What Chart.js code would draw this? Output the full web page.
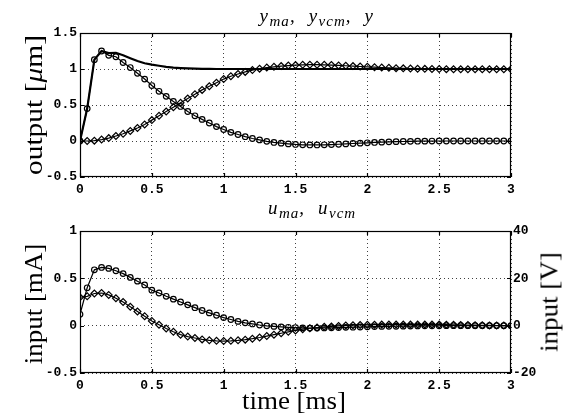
<!DOCTYPE html>
<html>
<head>
<meta charset="utf-8">
<script src="https://cdn.jsdelivr.net/npm/chart.js@4.4.0/dist/chart.umd.min.js"></script>
<style>
  body { margin: 0; background: #fff; width: 570px; height: 414px; position: relative; overflow: hidden; font-family: "Liberation Serif", serif; color: #000; }
  canvas { position: absolute; left: 0; }
  #topChart { top: 0; }
  #botChart { top: 200px; }
  .lbl { position: absolute; white-space: nowrap; font-size: 25px; line-height: 1; }
  .ttl { position: absolute; white-space: nowrap; font-style: italic; font-size: 19px; letter-spacing: 1.5px; line-height: 1; transform: translateX(-50%); }
  .ttl sub { font-size: 15px; vertical-align: -4px; letter-spacing: 1px; }
</style>
</head>
<body>
<canvas id="topChart" width="570" height="200"></canvas>
<canvas id="botChart" width="570" height="214"></canvas>

<div class="ttl" style="left:317px; top:6px;">y<sub>ma</sub>,&nbsp;&nbsp;y<sub>vcm</sub>,&nbsp;&nbsp;y</div>
<div class="ttl" style="left:312px; top:198px;">u<sub>ma</sub>,&nbsp;&nbsp;u<sub>vcm</sub></div>
<div class="lbl" style="left:33px; top:105px; transform:translate(-50%,-50%) rotate(-90deg) scaleX(1.18);">output [<i>μ</i>m]</div>
<div class="lbl" style="left:33px; top:304px; transform:translate(-50%,-50%) rotate(-90deg) scaleX(1.08);">input [mA]</div>
<div class="lbl" style="left:549px; top:302px; transform:translate(-50%,-50%) rotate(-90deg) scaleX(1.08);">input [V]</div>
<div class="lbl" style="left:294px; top:400px; transform:translate(-50%,-50%) scaleX(1.08);">time [ms]</div>

<script>
// time grid [ms]
const t = [0, 0.05, 0.1, 0.15, 0.2, 0.25, 0.3, 0.35, 0.4, 0.45,
  0.5, 0.55, 0.6, 0.65, 0.7, 0.75, 0.8, 0.85, 0.9, 0.95,
  1.0, 1.05, 1.1, 1.15, 1.2, 1.25, 1.3, 1.35, 1.4, 1.45,
  1.5, 1.55, 1.6, 1.65, 1.7, 1.75, 1.8, 1.85, 1.9, 1.95,
  2.0, 2.05, 2.1, 2.15, 2.2, 2.25, 2.3, 2.35, 2.4, 2.45,
  2.5, 2.55, 2.6, 2.65, 2.7, 2.75, 2.8, 2.85, 2.9, 2.95, 3.0];

// output [um]
const yTotal = [0, 0.45, 1.13, 1.25, 1.22, 1.225, 1.19, 1.15, 1.11, 1.08,
  1.06, 1.045, 1.03, 1.02, 1.013, 1.008, 1.004, 1.002, 1.001, 1,
  1, 1, 1, 1, 1, 1, 1, 1, 1, 1,
  1, 1, 1, 1, 1, 1, 1, 1, 1, 1,
  1, 1, 1, 1, 1, 1, 1, 1, 1, 1,
  1, 1, 1, 1, 1, 1, 1, 1, 1, 1, 1];
const yMa = [0, 0.45, 1.13, 1.25, 1.19, 1.17, 1.09, 1.02, 0.94, 0.86,
  0.77, 0.69, 0.62, 0.55, 0.48, 0.41, 0.35, 0.30, 0.25, 0.20,
  0.16, 0.12, 0.09, 0.06, 0.035, 0.015, -0.005, -0.02, -0.03, -0.04,
  -0.048, -0.053, -0.055, -0.055, -0.053, -0.05, -0.045, -0.04, -0.035, -0.03,
  -0.025, -0.02, -0.016, -0.012, -0.009, -0.007, -0.005, -0.003, -0.002, -0.001,
  0, 0, 0, 0, 0, 0, 0, 0, 0, 0, 0];
const yVcm = [0, 0, 0.005, 0.02, 0.04, 0.07, 0.10, 0.14, 0.18, 0.23,
  0.29, 0.35, 0.41, 0.47, 0.53, 0.59, 0.65, 0.71, 0.76, 0.81,
  0.86, 0.90, 0.93, 0.96, 0.985, 1.005, 1.02, 1.03, 1.04, 1.048,
  1.054, 1.058, 1.06, 1.06, 1.058, 1.055, 1.05, 1.045, 1.04, 1.035,
  1.03, 1.025, 1.02, 1.016, 1.012, 1.009, 1.006, 1.004, 1.002, 1.0,
  0.999, 0.998, 0.997, 0.997, 0.996, 0.996, 0.996, 0.996, 0.996, 0.996, 0.996];

// input: u_ma [mA], u_vcm [V]
const uMa = [0.12, 0.40, 0.59, 0.615, 0.605, 0.58, 0.55, 0.51, 0.47, 0.43,
  0.375, 0.345, 0.31, 0.28, 0.25, 0.22, 0.19, 0.16, 0.135, 0.11,
  0.085, 0.065, 0.045, 0.03, 0.018, 0.007, -0.002, -0.008, -0.013, -0.017,
  -0.02, -0.023, -0.025, -0.025, -0.024, -0.022, -0.02, -0.018, -0.016, -0.014,
  -0.012, -0.01, -0.008, -0.007, -0.006, -0.005, -0.004, -0.003, -0.002, -0.002,
  -0.001, 0, 0, 0, 0, 0, 0, 0, 0, 0, 0];
const uVcm = [12, 12.4, 13.6, 13.8, 13, 11.6, 10, 8, 6, 4,
  2, 0.4, -1.2, -2.6, -3.8, -4.6, -5.2, -5.8, -6.2, -6.4,
  -6.5, -6.4, -6.2, -5.9, -5.5, -5.0, -4.4, -3.8, -3.2, -2.6,
  -2.0, -1.5, -1.1, -0.8, -0.5, -0.3, -0.1, 0.1, 0.2, 0.3,
  0.35, 0.4, 0.45, 0.45, 0.45, 0.45, 0.45, 0.45, 0.45, 0.45,
  0.45, 0.4, 0.35, 0.3, 0.25, 0.2, 0.16, 0.12, 0.08, 0.05, 0.02];

// ticks
const xTicks = [0, 0.5, 1, 1.5, 2, 2.5, 3];
const xTickLabels = ["0", "0.5", "1", "1.5", "2", "2.5", "3"];
const yTopTicks = [-0.5, 0, 0.5, 1, 1.5];
const yTopTickLabels = ["-0.5", "0", "0.5", "1", "1.5"];
const yBotTicks = [-0.5, 0, 0.5, 1];
const yBotTickLabels = ["-0.5", "0", "0.5", "1"];
const yRightTicks = [-20, 0, 20, 40];
const yRightTickLabels = ["-20", "0", "20", "40"];

const pts = ys => t.map((x, i) => ({ x: x, y: ys[i] }));
const tickFont = { family: '"Liberation Mono", "DejaVu Sans Mono", monospace', size: 13, weight: 'bold' };
const gridStyle = { color: 'rgba(0,0,0,0.75)', lineWidth: 1, drawTicks: false };
const borderStyle = { display: false, dash: [1, 3] };

// box and inward ticks, like matlab axes
const boxPlugin = {
  id: 'box',
  afterDraw(chart) {
    const { ctx, chartArea: a, scales } = chart;
    ctx.save();
    ctx.setLineDash([]);
    ctx.strokeStyle = '#000';
    ctx.lineWidth = 1.2;
    ctx.strokeRect(a.left + 0.5, a.top + 0.5, a.right - a.left - 1, a.bottom - a.top - 1);
    const len = 4;
    ctx.beginPath();
    scales.x.ticks.forEach(tk => {
      const px = Math.round(scales.x.getPixelForValue(tk.value)) + 0.5;
      ctx.moveTo(px, a.bottom); ctx.lineTo(px, a.bottom - len);
      ctx.moveTo(px, a.top); ctx.lineTo(px, a.top + len);
    });
    scales.y.ticks.forEach(tk => {
      const py = Math.round(scales.y.getPixelForValue(tk.value)) + 0.5;
      ctx.moveTo(a.left, py); ctx.lineTo(a.left + len, py);
      ctx.moveTo(a.right, py); ctx.lineTo(a.right - len, py);
    });
    ctx.stroke();
    ctx.restore();
  }
};

function xScale(height) {
  return {
    type: 'linear', min: 0, max: 3,
    afterBuildTicks: s => { s.ticks = xTicks.map(v => ({ value: v })); },
    ticks: { callback: (v, i) => xTickLabels[i], font: tickFont, color: '#000', padding: 5, maxRotation: 0, autoSkip: false },
    grid: gridStyle, border: borderStyle,
    afterFit: s => { s.height = height; }
  };
}

const lineSet = (data, extra) => Object.assign({
  data: data, borderColor: '#000', borderWidth: 1.2, tension: 0,
  pointBackgroundColor: 'rgba(0,0,0,0)', pointBorderColor: '#000', pointBorderWidth: 1.2
}, extra);

const common = {
  responsive: false, animation: false, devicePixelRatio: 1,
  plugins: { legend: { display: false }, tooltip: { enabled: false } },
  events: []
};

new Chart(document.getElementById('topChart'), {
  type: 'line',
  data: {
    datasets: [
      lineSet(pts(yTotal), { borderWidth: 2.2, pointRadius: 0 }),
      lineSet(pts(yMa), { pointStyle: 'circle', pointRadius: 2.8 }),
      lineSet(pts(yVcm), { pointStyle: 'rectRot', pointRadius: 3.4 })
    ]
  },
  options: Object.assign({}, common, {
    layout: { padding: { top: 33, right: 59, left: 0, bottom: 0 } },
    scales: {
      x: xScale(23),
      y: {
        min: -0.5, max: 1.5,
        afterBuildTicks: s => { s.ticks = yTopTicks.map(v => ({ value: v })); },
        ticks: { callback: (v, i) => yTopTickLabels[i], font: tickFont, color: '#000', padding: 3 },
        grid: gridStyle, border: borderStyle,
        afterFit: s => { s.width = 80; }
      }
    }
  }),
  plugins: [boxPlugin]
});

new Chart(document.getElementById('botChart'), {
  type: 'line',
  data: {
    datasets: [
      lineSet(pts(uMa), { pointStyle: 'circle', pointRadius: 2.8, yAxisID: 'y' }),
      lineSet(pts(uVcm), { pointStyle: 'rectRot', pointRadius: 3.4, yAxisID: 'y2' })
    ]
  },
  options: Object.assign({}, common, {
    layout: { padding: { top: 31, right: 0, left: 0, bottom: 0 } },
    scales: {
      x: xScale(41),
      y: {
        position: 'left', min: -0.5, max: 1,
        afterBuildTicks: s => { s.ticks = yBotTicks.map(v => ({ value: v })); },
        ticks: { callback: (v, i) => yBotTickLabels[i], font: tickFont, color: '#000', padding: 3 },
        grid: gridStyle, border: borderStyle,
        afterFit: s => { s.width = 80; }
      },
      y2: {
        position: 'right', min: -20, max: 40,
        afterBuildTicks: s => { s.ticks = yRightTicks.map(v => ({ value: v })); },
        ticks: { callback: (v, i) => yRightTickLabels[i], font: tickFont, color: '#000', padding: 2 },
        grid: { drawOnChartArea: false, drawTicks: false }, border: { display: false },
        afterFit: s => { s.width = 59; }
      }
    }
  }),
  plugins: [boxPlugin]
});
</script>
</body>
</html>
